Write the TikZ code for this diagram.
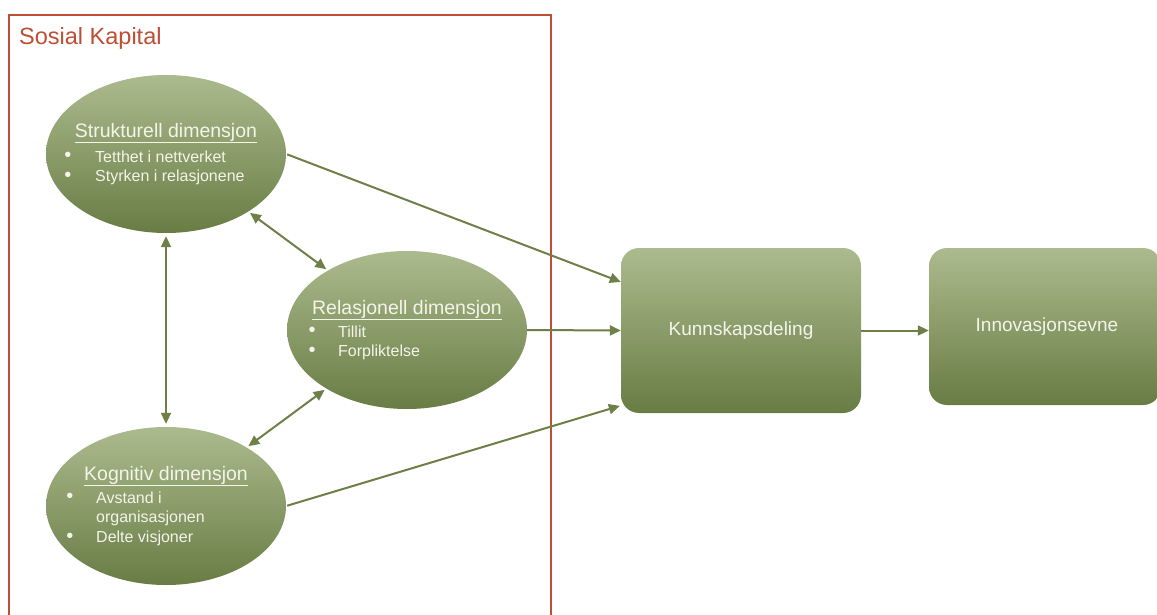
\documentclass[tikz,border=0pt]{standalone}
\usepackage{fontspec}
\setmainfont{Liberation Sans}
\usetikzlibrary{arrows.meta,shapes.geometric}
\definecolor{redline}{RGB}{190,78,52}
\definecolor{gtop}{RGB}{172,187,142}
\definecolor{gbot}{RGB}{104,124,68}
\definecolor{arrowc}{RGB}{110,128,72}
\definecolor{txtc}{RGB}{244,244,234}
\tikzset{
  ell/.style={ellipse, minimum width=240pt, minimum height=158pt, inner sep=0pt,
    top color=gtop, bottom color=gbot, draw=none},
  rbox/.style={rectangle, rounded corners=18pt, inner sep=0pt,
    top color=gtop, bottom color=gbot, draw=none},
  ttl/.style={text=txtc, font=\fontsize{19.5}{22}\selectfont, inner sep=0pt},
  itm/.style={text=txtc, font=\fontsize{16}{18}\selectfont, inner sep=0pt, anchor=west},
  bul/.style={text=txtc, font=\fontsize{20}{22}\selectfont, inner sep=0pt},
  boxtxt/.style={text=txtc, font=\fontsize{19}{21}\selectfont, inner sep=0pt},
  conn/.style={draw=arrowc, line width=2pt, -{Triangle[length=11pt,width=10pt]}},
  dconn/.style={draw=arrowc, line width=2pt, {Triangle[length=11pt,width=10pt]}-{Triangle[length=11pt,width=10pt]}}
}
\begin{document}
\begin{tikzpicture}[x=1pt,y=-1pt]
\useasboundingbox (0,0) rectangle (1157,615);
\fill[white] (0,0) rectangle (1157,615);
% Sosial Kapital frame
\draw[redline, line width=1.8pt] (9,640) -- (9,15) -- (551,15) -- (551,640);
\node[text=redline, font=\fontsize{23.5}{26}\selectfont, anchor=west, inner sep=0pt] (sk) at (19,38) {Sosial Kapital};

% ellipses
\node[ell] (s) at (166,154) {};
\node[ell] (r) at (407,330) {};
\node[ell] (k) at (166,506) {};

% boxes
\node[rbox, minimum width=240pt, minimum height=165pt] (kd) at (741,330.5) {};
\node[rbox, minimum width=232pt, minimum height=157pt] (in) at (1045,326.5) {};

% texts ellipse 1
\node[ttl] (s-t) at (166,133) {\underline{Strukturell dimensjon}};
\node[bul] (s-b1) at (68,157) {\textbullet};
\node[itm] (s-i1) at (95,157) {Tetthet i nettverket};
\node[bul] (s-b2) at (68,177) {\textbullet};
\node[itm] (s-i2) at (95,177) {Styrken i relasjonene};

% texts ellipse 2
\node[ttl] (r-t) at (407,310) {\underline{Relasjonell dimensjon}};
\node[bul] (r-b1) at (312,332) {\textbullet};
\node[itm] (r-i1) at (338,332) {Tillit};
\node[bul] (r-b2) at (312,352) {\textbullet};
\node[itm] (r-i2) at (338,352) {Forpliktelse};

% texts ellipse 3
\node[ttl] (k-t) at (166,476) {\underline{Kognitiv dimensjon}};
\node[bul] (k-b1) at (70,498) {\textbullet};
\node[itm] (k-i1) at (96,498) {Avstand i};
\node[itm] (k-i2) at (96,518) {organisasjonen};
\node[bul] (k-b3) at (70,538) {\textbullet};
\node[itm] (k-i3) at (96,538) {Delte visjoner};

% box texts
\node[boxtxt] (kd-t) at (kd) {Kunnskapsdeling};
\node[boxtxt] (in-t) at (1047,327) {Innovasjonsevne};

% connectors
\draw[dconn, shorten <=3pt, shorten >=3pt] (s.south) -- (k.north);
\draw[dconn, shorten <=2pt, shorten >=2pt] (s.-35) -- (r.143);
\draw[dconn, shorten <=2pt, shorten >=2pt] (k.36) -- (r.216);
\draw[conn, shorten <=1pt] (s.east) -- (kd.158.4);
\draw[conn] (r.east) -- (kd.west);
\draw[conn, shorten <=1pt, shorten >=1pt] (k.east) -- (kd.212.9);
\draw[conn] (kd.east) -- (kd.east -| in.west);
\end{tikzpicture}
\end{document}
